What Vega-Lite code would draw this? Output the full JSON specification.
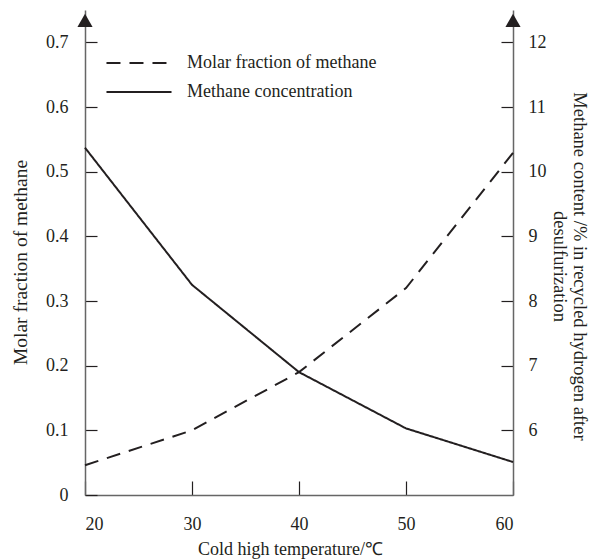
{
  "$schema": "https://vega.github.io/schema/vega-lite/v6.json",
  "width": 428,
  "height": 485,
  "autosize": {"type": "none"},
  "padding": {"left": 85, "top": 10, "right": 77, "bottom": 65},
  "config": {
    "font": "Liberation Serif",
    "view": {"stroke": null},
    "axis": {
      "labelFont": "Liberation Serif",
      "titleFont": "Liberation Serif",
      "labelFontSize": 18,
      "titleFontSize": 19.5,
      "titleFontWeight": "normal",
      "labelColor": "#231f20",
      "titleColor": "#231f20",
      "domainColor": "#666666",
      "domainWidth": 1.5,
      "tickColor": "#231f20",
      "tickWidth": 1.2,
      "grid": false
    },
    "legend": {
      "labelFont": "Liberation Serif",
      "labelFontSize": 18,
      "labelColor": "#231f20",
      "labelLimit": 0
    }
  },
  "datasets": {
    "lines": [
      {"temp": 20, "series": "Molar fraction of methane", "value": 0.046},
      {"temp": 30, "series": "Molar fraction of methane", "value": 0.100},
      {"temp": 40, "series": "Molar fraction of methane", "value": 0.190},
      {"temp": 50, "series": "Molar fraction of methane", "value": 0.320},
      {"temp": 60, "series": "Molar fraction of methane", "value": 0.529},
      {"temp": 20, "series": "Methane concentration", "value": 10.37},
      {"temp": 30, "series": "Methane concentration", "value": 8.25},
      {"temp": 40, "series": "Methane concentration", "value": 6.90},
      {"temp": 50, "series": "Methane concentration", "value": 6.03},
      {"temp": 60, "series": "Methane concentration", "value": 5.51}
    ],
    "arrows": [{"temp": 20, "value": 0.734}, {"temp": 60, "value": 0.734}]
  },
  "layer": [
    {
      "data": {"name": "lines"},
      "transform": [{"filter": "datum.series === 'Molar fraction of methane'"}],
      "mark": {"type": "line", "color": "#231f20", "strokeWidth": 2},
      "encoding": {
        "x": {
          "field": "temp", "type": "quantitative",
          "scale": {"domain": [20, 60], "nice": false, "zero": false},
          "axis": {"values": [20, 30, 40, 50, 60], "tickSize": -14, "labelPadding": 34, "title": "Cold high temperature/℃", "titleFontSize": 18, "titlePadding": 7, "titleX": 205}
        },
        "y": {
          "field": "value", "type": "quantitative",
          "scale": {"domain": [0, 0.75], "nice": false},
          "axis": {"orient": "left", "values": [0, 0.1, 0.2, 0.3, 0.4, 0.5, 0.6, 0.7], "format": "~g", "tickSize": -12, "labelPadding": 29, "title": "Molar fraction of methane", "titlePadding": 15, "titleY": 252}
        },
        "strokeDash": {
          "field": "series", "type": "nominal",
          "scale": {"domain": ["Molar fraction of methane", "Methane concentration"], "range": [[14, 9], [1, 0]]},
          "legend": {"orient": "none", "legendX": 42, "legendY": 41, "title": null, "symbolType": "M-3,0H3", "symbolSize": 470, "symbolStrokeWidth": 2, "symbolStrokeColor": "#231f20", "symbolFillColor": "transparent", "labelOffset": 36, "rowPadding": 8}
        }
      }
    },
    {
      "data": {"name": "lines"},
      "transform": [{"filter": "datum.series === 'Methane concentration'"}],
      "mark": {"type": "line", "color": "#231f20", "strokeWidth": 2},
      "encoding": {
        "x": {"field": "temp", "type": "quantitative"},
        "y": {
          "field": "value", "type": "quantitative",
          "scale": {"domain": [5, 12.5], "nice": false, "zero": false},
          "axis": {"orient": "right", "values": [6, 7, 8, 9, 10, 11, 12], "tickSize": -12, "labelPadding": 27, "title": ["Methane content /% in recycled hydrogen after", "desulfurization"], "titleFontSize": 18.5, "titlePadding": 3, "titleLineHeight": 20, "titleY": 256}
        },
        "strokeDash": {"field": "series", "type": "nominal"}
      }
    },
    {
      "data": {"name": "arrows"},
      "mark": {"type": "point", "shape": "triangle-up", "filled": true, "color": "#231f20", "size": 230, "opacity": 1},
      "encoding": {
        "x": {"field": "temp", "type": "quantitative"},
        "y": {"field": "value", "type": "quantitative", "scale": {"domain": [0, 0.75], "nice": false}, "axis": null}
      }
    }
  ],
  "resolve": {"scale": {"y": "independent"}}
}
